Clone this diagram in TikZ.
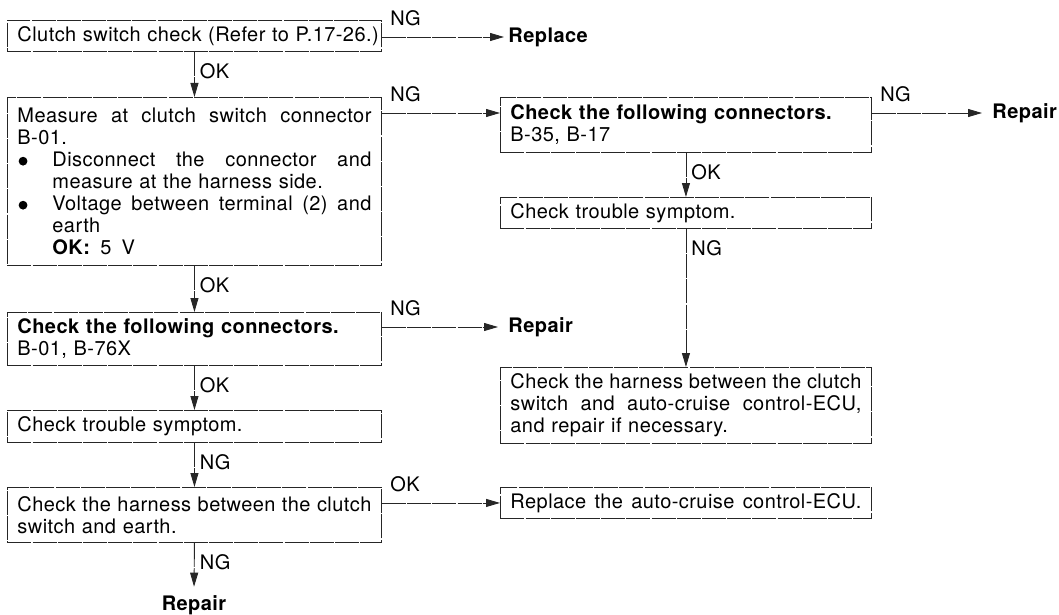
\documentclass[tikz,border=0pt]{standalone}
\usepackage{fontspec}
\setmainfont{TeX Gyre Heros}[LetterSpace=2.2]
\usepackage{tikz}
\usetikzlibrary{arrows.meta,calc,positioning}

\newcommand{\etire}[2][0pt]{\makebox[\dimexpr\linewidth-#1\relax][s]{\spaceskip=.25em plus 1fil\relax #2}}
\newcommand{\puce}{\makebox[17.5pt][l]{\hspace{0.6pt}\tikz[baseline=-0.27em]\fill (0,0) circle (2.2pt);}}
\newcommand{\retrait}{\hspace*{17.5pt}}

\begin{document}
\begin{tikzpicture}[
		x=0.5pt, y=-0.5pt,
		every node/.style={font=\fontsize{10}{11}\selectfont},
		case/.style={draw=black!85, line width=0.45pt, dash pattern=on 12pt off 0.6pt, inner xsep=5pt, inner ysep=0pt, text width=177pt, align=left, anchor=north west},
		caseD/.style={case, text width=175.5pt},
		issue/.style={font=\fontsize{10}{11}\selectfont\bfseries, inner sep=2pt},
		fl/.style={->, draw=black!85, line width=0.45pt, dash pattern=on 12pt off 0.6pt},
		sousd/.style={inner sep=0pt, pos=0, anchor=north west, xshift=2.5pt, yshift=-5.5pt},
		dessusd/.style={inner sep=0pt, pos=0, anchor=south west, xshift=4pt, yshift=5.5pt},
		>={Triangle[length=7pt,width=4pt]}
		]
		\useasboundingbox (0,0) rectangle (1059,615);
		
		% Les cases de gauche
		\node[case, minimum height=15.5pt] (b1) at (7,20) {\mbox{Clutch switch check (Refer to P.17-26.)}};
		\node[case, minimum height=84pt] (b2) at (7,97) {\etire{Measure at clutch switch connector}\\
			B-01.\\
			\puce\etire[17.5pt]{Disconnect the connector and}\\
			\retrait measure at the harness side.\\
			\puce\etire[17.5pt]{Voltage between terminal (2) and}\\
			\retrait earth\\
			\retrait\textbf{OK:}\enspace 5\enspace V};
		\node[case, minimum height=26.5pt] (b7) at (7,312) {\textbf{Check the following connectors.}\\ B-01, B-76X};
		\node[case, minimum height=16pt] (b8) at (7,410) {Check trouble symptom.};
		\node[case, minimum height=27.5pt] (b9) at (7,487) {\etire{Check the harness between the clutch}\\ switch and earth.};
		
		% Les cases de droite
		\node[caseD, minimum height=27.5pt] (b3) at (500,97) {\textbf{Check the following connectors.}\\ B-35, B-17};
		\node[caseD, minimum height=15.5pt] (b4) at (500,197) {Check trouble symptom.};
		\node[caseD, minimum height=38pt] (b5) at (500,367) {\etire{Check the harness between the clutch}\\ \etire{switch and auto-cruise control-ECU,}\\ and repair if necessary.};
		\node[caseD, minimum height=15.5pt] (b6) at (500,487) {\etire{Replace the auto-cruise control-ECU.}};
		
		% Les issues
		\node[issue, anchor=west] (remp) at (504,37) {Replace};
		\node[issue, anchor=west] (rep1) at (988,113) {Repair};
		\node[issue, anchor=west] (rep2) at (504,327) {Repair};
		\node[issue, anchor=base] (rep3) at (194,610) {Repair};
		
		% Les flèches
		\draw[fl] (b1.south) -- node[sousd] {OK} (b2.north);
		\draw[fl] (remp -| b1.east) -- node[dessusd] {NG} (remp.west);
		\draw[fl] ([yshift=-8pt]b2.north east) -- node[dessusd] {NG} ([yshift=-8pt]b3.north west);
		\draw[fl, shorten >=3pt] (rep1 -| b3.east) -- node[dessusd] {NG} (rep1.west);
		\draw[fl] (b3.south) -- node[sousd] {OK} (b4.north);
		\draw[fl] (b4.south) -- node[sousd] {NG} (b5.north);
		\draw[fl] (b2.south) -- node[sousd] {OK} (b7.north);
		\draw[fl, shorten >=3pt] (rep2 -| b7.east) -- node[dessusd] {NG} (rep2.west);
		\draw[fl] (b7.south) -- node[sousd] {OK} (b8.north);
		\draw[fl] (b8.south) -- node[sousd] {NG} (b9.north);
		\draw[fl] (b6 -| b9.east) -- node[dessusd] {OK} (b6.west);
		\draw[fl, shorten >=2pt] (b9.south) -- node[sousd] {NG} (rep3.north);
	\end{tikzpicture}
\end{document}
